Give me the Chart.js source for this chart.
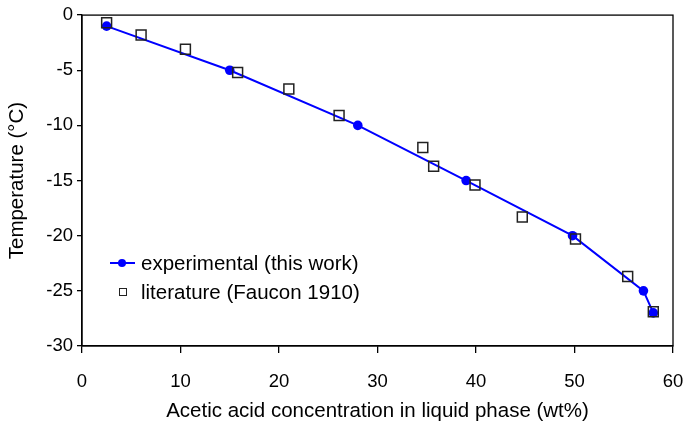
<!DOCTYPE html>
<html>
<head>
<meta charset="utf-8">
<script src="https://cdn.jsdelivr.net/npm/chart.js@4"></script>
<style>
  html, body { margin: 0; padding: 0; background: #fff; }
  #wrap { position: relative; width: 685px; height: 426px; }
  .legend { position: absolute; left: 108px; font: 20.5px "Liberation Sans", Arial, sans-serif; color: #000; }
  .legend div { position: relative; height: 29px; line-height: 29px; padding-left: 33px; white-space: nowrap; }
  .mk-line { position: absolute; left: 2px; top: 14px; width: 25px; height: 2px; background: #0000ff; }
  .mk-dot { position: absolute; left: 10px; top: 11px; width: 8px; height: 8px; border-radius: 50%; background: #0000ff; }
  .mk-sq { position: absolute; left: 11px; top: 11px; width: 6px; height: 6px; border: 1.5px solid #222; }
</style>
</head>
<body>
<div id="wrap">
  <canvas id="c" width="685" height="426"></canvas>
  <div class="legend" style="top:248px">
    <div><span class="mk-line"></span><span class="mk-dot"></span>experimental (this work)</div>
    <div><span class="mk-sq"></span>literature (Faucon 1910)</div>
  </div>
</div>
<script>
// experimental (this work)
const expX = [2.5, 15, 28, 39, 49.8, 57, 58];
const expY = [-1, -5, -10, -15, -20, -25, -27];
// literature (Faucon 1910)
const litX = [2.5, 6, 10.5, 15.8, 21, 26.1, 34.6, 35.7, 39.9, 44.7, 50.1, 55.4, 58];
const litY = [-0.7, -1.8, -3.1, -5.2, -6.7, -9.1, -12, -13.7, -15.4, -18.3, -20.3, -23.7, -26.9];

const xTicks = [0, 10, 20, 30, 40, 50, 60];
const yTicks = [0, -5, -10, -15, -20, -25, -30];

const FONT = '"Liberation Sans", Arial, sans-serif';

// box round the plot area
const frame = {
  id: 'frame',
  afterDraw(chart) {
    const a = chart.chartArea, ctx = chart.ctx;
    ctx.save();
    ctx.strokeStyle = '#000';
    ctx.lineWidth = 1.3;
    ctx.strokeRect(a.left, a.top, a.right - a.left, a.bottom - a.top);
    ctx.restore();
  }
};

new Chart(document.getElementById('c'), {
  type: 'scatter',
  data: {
    datasets: [
      {
        label: 'literature (Faucon 1910)',
        data: litX.map((x, i) => ({ x, y: litY[i] })),
        pointStyle: 'rect',
        pointRadius: 7,
        backgroundColor: 'rgba(0,0,0,0)',
        borderColor: '#222',
        borderWidth: 1.5,
        showLine: false,
      },
      {
        label: 'experimental (this work)',
        data: expX.map((x, i) => ({ x, y: expY[i] })),
        showLine: true,
        borderColor: '#0000ff',
        backgroundColor: '#0000ff',
        borderWidth: 2,
        pointRadius: 4.8,
        pointBorderWidth: 0,
      },
    ],
  },
  options: {
    responsive: false,
    animation: false,
    layout: { padding: { top: 12, right: 12, left: 0, bottom: 2 } },
    plugins: { legend: { display: false }, tooltip: { enabled: false } },
    scales: {
      x: {
        min: 0, max: 60,
        afterBuildTicks: s => { s.ticks = xTicks.map(v => ({ value: v })); },
        afterFit: s => { s.height = 78; s.paddingLeft = 0; s.paddingRight = 0; },
        border: { color: '#000', width: 1.3 },
        grid: { drawOnChartArea: false, color: '#000', tickLength: 7, lineWidth: 1.3 },
        ticks: { color: '#000', font: { family: FONT, size: 18.5 }, padding: 18 },
        title: {
          display: true,
          text: 'Acetic acid concentration in liquid phase (wt%)',
          color: '#000', font: { family: FONT, size: 20.5 }, padding: { top: 0, bottom: 0 },
        },
      },
      y: {
        min: -30, max: 0,
        afterBuildTicks: s => { s.ticks = yTicks.map(v => ({ value: v })); },
        afterFit: s => { s.width = 82; },
        border: { color: '#000', width: 1.3 },
        grid: { drawOnChartArea: false, color: '#000', tickLength: 5, lineWidth: 1.3 },
        ticks: { color: '#000', font: { family: FONT, size: 18.5 }, padding: 4 },
        title: {
          display: true,
          text: 'Temperature (°C)',
          color: '#000', font: { family: FONT, size: 20.5 }, padding: { top: 5, bottom: 0 },
        },
      },
    },
  },
  plugins: [frame],
});
</script>
</body>
</html>
